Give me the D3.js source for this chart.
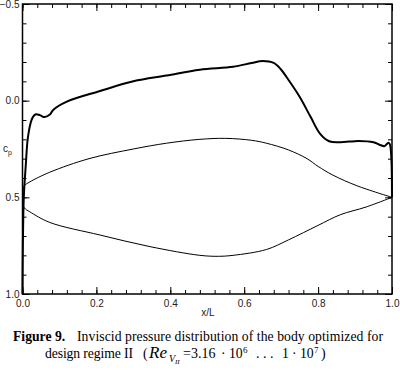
<!DOCTYPE html>
<meta charset="utf-8">
<style>
  body { margin: 0; background: #fff; }
  svg { display: block; }
  .axis text { font-family: "Liberation Sans", Arial, sans-serif; font-size: 10px; fill: #222; }
  .axis path { display: none; }
  .axis line { stroke: #000; stroke-width: 1; }
  .caption { font-family: "Liberation Serif", "Times New Roman", serif; font-size: 13.7px; fill: #000; }
</style>
<body>
<script src="https://cdn.jsdelivr.net/npm/d3@7"></script>
<script>

// thick curve
var xThick  = [0, 0.001, 0.0035, 0.009, 0.014, 0.022, 0.028, 0.036, 0.047, 0.06, 0.074, 0.083, 0.12, 0.21, 0.30, 0.39, 0.48, 0.57, 0.62, 0.65, 0.68, 0.70, 0.72, 0.75, 0.78, 0.805, 0.83, 0.86, 0.91, 0.95, 0.966, 0.98, 0.99, 0.994, 0.998, 1.0];
var cpThick = [1.0, 0.75, 0.5, 0.33, 0.2, 0.115, 0.085, 0.07, 0.075, 0.085, 0.072, 0.048, 0.005, -0.05, -0.10, -0.13, -0.16, -0.175, -0.195, -0.205, -0.195, -0.16, -0.107, -0.02, 0.085, 0.17, 0.21, 0.215, 0.208, 0.215, 0.228, 0.235, 0.218, 0.225, 0.29, 0.5];

// thin curves
var xUpper  = [0, 0.005, 0.02, 0.074, 0.18, 0.30, 0.39, 0.48, 0.55, 0.62, 0.66, 0.72, 0.77, 0.80, 0.84, 0.905, 1.0];
var cpUpper = [0.47, 0.44, 0.42, 0.37, 0.30, 0.25, 0.22, 0.2, 0.195, 0.205, 0.22, 0.255, 0.30, 0.34, 0.385, 0.44, 0.5];

var xLower  = [0, 0.005, 0.02, 0.074, 0.21, 0.345, 0.48, 0.53, 0.57, 0.66, 0.72, 0.80, 0.86, 0.93, 1.0];
var cpLower = [0.53, 0.555, 0.575, 0.63, 0.695, 0.755, 0.80, 0.805, 0.80, 0.77, 0.72, 0.645, 0.59, 0.55, 0.5];

// ticks
var xMajor = [0, 0.2, 0.4, 0.6, 0.8, 1.0];
var yMajor = [-0.5, 0.0, 0.5, 1.0];

var margin = {top: 4, right: 8, bottom: 76, left: 22.5},
    width = 400 - margin.left - margin.right,
    height = 370 - margin.top - margin.bottom;

var svg = d3.select("body").append("svg")
    .attr("width", 400)
    .attr("height", 370);

var g = svg.append("g")
    .attr("transform", "translate(" + margin.left + "," + margin.top + ")");

var x = d3.scaleLinear().domain([0, 1]).range([0, width]);
var y = d3.scaleLinear().domain([-0.5, 1.0]).range([0, height]);

var xMinor = d3.range(0, 1.0001, 0.04).map(function(d) { return +d.toFixed(2); });
var yMinor = d3.range(-0.5, 1.0001, 0.1).map(function(d) { return +d.toFixed(1); });

// minor ticks, all four sides
g.append("g").attr("class", "axis")
    .attr("transform", "translate(0," + height + ")")
    .call(d3.axisBottom(x).tickValues(xMinor).tickSize(-4).tickFormat(""));
g.append("g").attr("class", "axis")
    .call(d3.axisTop(x).tickValues(xMinor).tickSize(-4).tickFormat(""));
g.append("g").attr("class", "axis")
    .call(d3.axisLeft(y).tickValues(yMinor).tickSize(-4).tickFormat(""));
g.append("g").attr("class", "axis")
    .attr("transform", "translate(" + width + ",0)")
    .call(d3.axisRight(y).tickValues(yMinor).tickSize(-4).tickFormat(""));

// major ticks with labels
g.append("g").attr("class", "axis")
    .attr("transform", "translate(0," + height + ")")
    .call(d3.axisBottom(x).tickValues(xMajor).tickSize(-7).tickPadding(6).tickFormat(d3.format(".1f")));
g.append("g").attr("class", "axis")
    .call(d3.axisTop(x).tickValues(xMajor).tickSize(-7).tickFormat(""));
g.append("g").attr("class", "axis")
    .call(d3.axisLeft(y).tickValues(yMajor).tickSize(-7).tickPadding(3).tickFormat(d3.format(".1f")));
g.append("g").attr("class", "axis")
    .attr("transform", "translate(" + width + ",0)")
    .call(d3.axisRight(y).tickValues(yMajor).tickSize(-7).tickFormat(""));

// frame
g.append("rect")
    .attr("width", width)
    .attr("height", height)
    .attr("fill", "none")
    .attr("stroke", "#000")
    .attr("stroke-width", 1.5);

var line = d3.line()
    .x(function(d) { return x(d[0]); })
    .y(function(d) { return y(d[1]); })
    .curve(d3.curveCatmullRom.alpha(0.5));

function pairs(xs, ys) { return xs.map(function(v, i) { return [v, ys[i]]; }); }

g.append("path").datum(pairs(xUpper, cpUpper))
    .attr("d", line).attr("fill", "none").attr("stroke", "#000").attr("stroke-width", 1);
g.append("path").datum(pairs(xLower, cpLower))
    .attr("d", line).attr("fill", "none").attr("stroke", "#000").attr("stroke-width", 1);
g.append("path").datum(pairs(xThick, cpThick))
    .attr("d", line).attr("fill", "none").attr("stroke", "#000").attr("stroke-width", 2);

// axis titles
svg.append("text")
    .attr("x", 208).attr("y", 316)
    .attr("text-anchor", "middle")
    .style("font-family", "Liberation Sans, Arial, sans-serif")
    .style("font-size", "10px").style("fill", "#222")
    .text("x/L");

var cp = svg.append("text")
    .attr("x", 3).attr("y", 152)
    .style("font-family", "Liberation Sans, Arial, sans-serif")
    .style("font-size", "10px").style("fill", "#222");
cp.append("tspan").text("c");
cp.append("tspan").attr("dy", 3).style("font-size", "7px").text("p");

// caption
var c1 = svg.append("text").attr("class", "caption").attr("x", 13).attr("y", 341);
c1.append("tspan").style("font-weight", "bold").text("Figure 9.");
c1.append("tspan").attr("x", 77).attr("textLength", 306).text("Inviscid pressure distribution of the body optimized for");

var c2 = svg.append("text").attr("class", "caption").attr("y", 358);
c2.append("tspan").attr("x", 45).attr("textLength", 88).text("design regime II");
c2.append("tspan").attr("x", 143).text("(");
c2.append("tspan").attr("x", 149).style("font-style", "italic").style("font-size", "17px").text("Re");
c2.append("tspan").attr("x", 169).attr("dy", 4).style("font-style", "italic").style("font-size", "10px").text("V");
c2.append("tspan").attr("x", 175).attr("dy", 2).style("font-style", "italic").style("font-size", "7px").text("II");
c2.append("tspan").attr("x", 183).attr("dy", -6).style("font-size", "14px").text("=3.16");
c2.append("tspan").attr("x", 221).text("\u00b7");
c2.append("tspan").attr("x", 229).text("10");
c2.append("tspan").attr("x", 243).attr("dy", -5).style("font-size", "9px").text("6");
c2.append("tspan").attr("x", 256).attr("dy", 5).style("font-size", "14px").text(". . .");
c2.append("tspan").attr("x", 282).text("1");
c2.append("tspan").attr("x", 292).text("\u00b7");
c2.append("tspan").attr("x", 300).text("10");
c2.append("tspan").attr("x", 314).attr("dy", -5).style("font-size", "9px").text("7");
c2.append("tspan").attr("x", 321).attr("dy", 5).style("font-size", "14px").text(")");

</script>
</body>
